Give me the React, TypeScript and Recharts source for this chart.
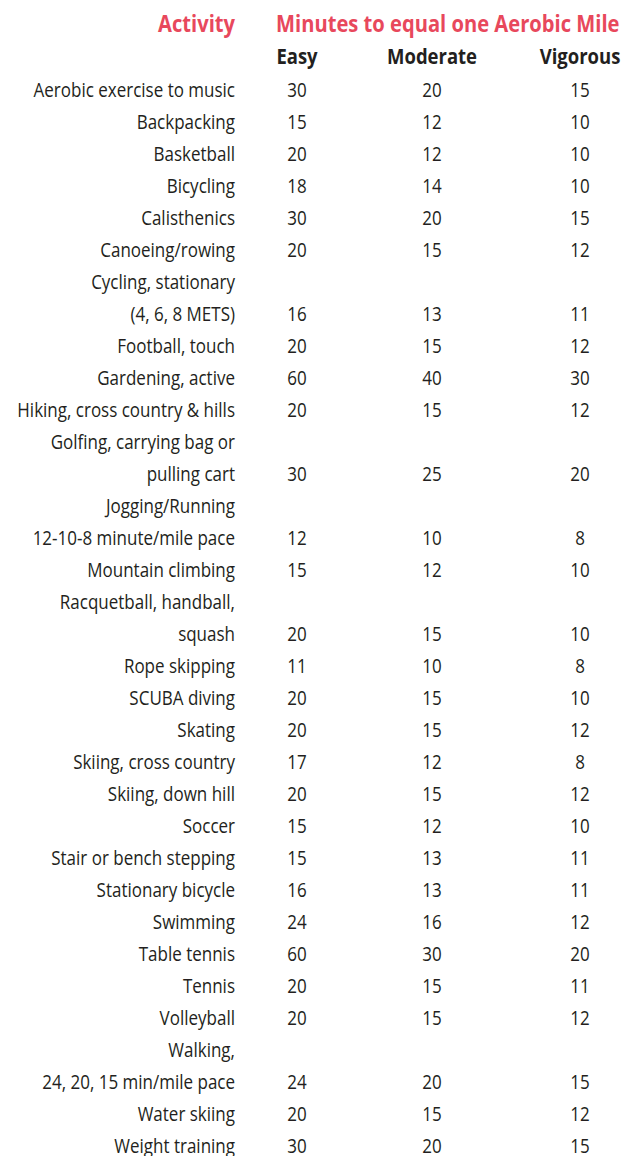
import { Scatter, ScatterChart, XAxis, YAxis } from "recharts";

// Table content (values in minutes)
const TITLE = "Activity";
const SUBTITLE = "Minutes to equal one Aerobic Mile";
const levels = ["Easy", "Moderate", "Vigorous"];

// "\n" marks a label that wraps onto a second line; the values sit on the last line
const activities = [
  "Aerobic exercise to music",
  "Backpacking",
  "Basketball",
  "Bicycling",
  "Calisthenics",
  "Canoeing/rowing",
  "Cycling, stationary\n(4, 6, 8 METS)",
  "Football, touch",
  "Gardening, active",
  "Hiking, cross country & hills",
  "Golfing, carrying bag or\npulling cart",
  "Jogging/Running\n12-10-8 minute/mile pace",
  "Mountain climbing",
  "Racquetball, handball,\nsquash",
  "Rope skipping",
  "SCUBA diving",
  "Skating",
  "Skiing, cross country",
  "Skiing, down hill",
  "Soccer",
  "Stair or bench stepping",
  "Stationary bicycle",
  "Swimming",
  "Table tennis",
  "Tennis",
  "Volleyball",
  "Walking,\n24, 20, 15 min/mile pace",
  "Water skiing",
  "Weight training",
];
const easy = [30, 15, 20, 18, 30, 20, 16, 20, 60, 20, 30, 12, 15, 20, 11, 20, 20, 17, 20, 15, 15, 16, 24, 60, 20, 20, 24, 20, 30];
const moderate = [20, 12, 12, 14, 20, 15, 13, 15, 40, 15, 25, 10, 12, 15, 10, 15, 15, 12, 15, 12, 13, 13, 16, 30, 15, 15, 20, 15, 20];
const vigorous = [15, 10, 10, 10, 15, 12, 11, 12, 30, 12, 20, 8, 10, 10, 8, 10, 12, 8, 12, 10, 11, 11, 12, 20, 11, 12, 15, 12, 15];

// layout
const W = 625;
const H = 1156;
const LABEL_X = 235; // right edge of the activity column
const COL_X = [297, 432, 580]; // centres of the three value columns
const SUBTITLE_X = 276;
const RED = "#e8485c";
const INK = "#231f20";
// no condensed face is installed, so the glyphs are squeezed horizontally
const FONT = "'Open Sans', 'Noto Sans', sans-serif";

type Cell = {
  x: number;
  line: number;
  text: string;
  kind: "title" | "head" | "label" | "value";
  anchor: "start" | "middle" | "end";
};

const cells: Cell[] = [
  { x: LABEL_X, line: -2, text: TITLE, kind: "title", anchor: "end" },
  { x: SUBTITLE_X, line: -2, text: SUBTITLE, kind: "title", anchor: "start" },
  ...levels.map((l, i): Cell => ({ x: COL_X[i], line: -1, text: l, kind: "head", anchor: "middle" })),
];

let line = 0;
activities.forEach((a, i) => {
  const parts = a.split("\n");
  parts.forEach((p, j) => {
    cells.push({ x: LABEL_X, line: line + j, text: p, kind: "label", anchor: "end" });
  });
  const last = line + parts.length - 1;
  [easy[i], moderate[i], vigorous[i]].forEach((v, c) => {
    cells.push({ x: COL_X[c], line: last, text: String(v), kind: "value", anchor: "middle" });
  });
  line += parts.length;
});
const lastLine = line - 1;

const STYLE = {
  title: { fontSize: 24, fontWeight: 700, fill: RED, squeeze: 0.84, dy: "0.3em" },
  head: { fontSize: 21, fontWeight: 700, fill: INK, squeeze: 0.88, dy: "0.34em" },
  label: { fontSize: 20, fontWeight: 400, fill: INK, squeeze: 0.85, dy: "0.38em" },
  value: { fontSize: 20, fontWeight: 400, fill: INK, squeeze: 0.85, dy: "0.38em" },
};

function CellText(props: any) {
  const { cx, cy, payload } = props;
  const s = STYLE[payload.kind as Cell["kind"]];
  return (
    <g transform={`translate(${cx},${cy}) scale(${s.squeeze},1)`}>
      <text
        x={0}
        y={0}
        dy={s.dy}
        textAnchor={payload.anchor}
        fontFamily={FONT}
        fontSize={s.fontSize}
        fontWeight={s.fontWeight}
        fill={s.fill}
      >
        {payload.text}
      </text>
    </g>
  );
}

export default function App() {
  return (
    <div style={{ position: "absolute", left: 0, top: 0, width: W, height: H, background: "#fff" }}>
      <ScatterChart width={W} height={H} margin={{ top: 25, right: 0, bottom: 11, left: 0 }}>
        <XAxis type="number" dataKey="x" domain={[0, W]} hide />
        <YAxis type="number" dataKey="line" domain={[-2, lastLine]} reversed hide />
        <Scatter data={cells} shape={CellText} isAnimationActive={false} />
      </ScatterChart>
    </div>
  );
}
